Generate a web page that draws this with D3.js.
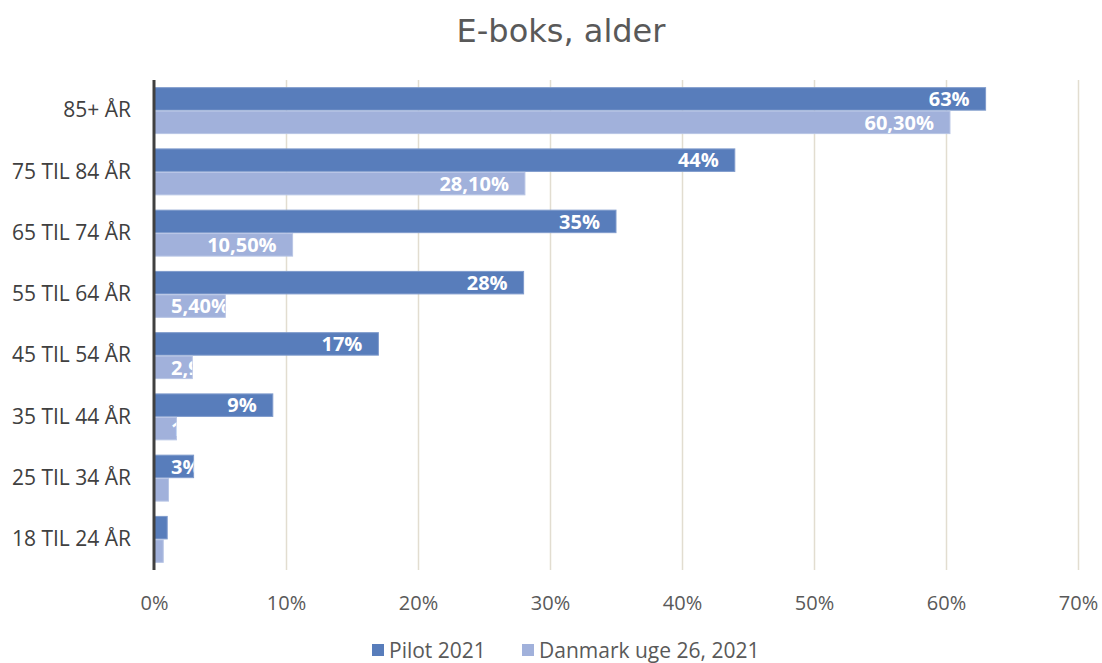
<!DOCTYPE html>
<html><head><meta charset="utf-8">
<script src="https://cdn.jsdelivr.net/npm/d3@7"></script>
<style>body{margin:0;background:#fff}svg{display:block}</style>
</head><body>
<svg id="c" width="1102" height="663"></svg>
<script>
const categories = ["85+ ÅR","75 TIL 84 ÅR","65 TIL 74 ÅR","55 TIL 64 ÅR","45 TIL 54 ÅR","35 TIL 44 ÅR","25 TIL 34 ÅR","18 TIL 24 ÅR"];
const pilot = [63,44,35,28,17,9,3,1];
const pilotLabels = ["63%","44%","35%","28%","17%","9%","3%","1%"];
const danmark = [60.3,28.1,10.5,5.4,2.9,1.7,1.1,0.7];
const danmarkLabels = ["60,30%","28,10%","10,50%","5,40%","2,90%","1,70%","1,10%","0,70%"];
const xTicks = [0,10,20,30,40,50,60,70];
const tickLabels = ["0%","10%","20%","30%","40%","50%","60%","70%"];
const seriesNames = ["Pilot 2021","Danmark uge 26, 2021"];
const colors = ["#587DBB","#A1B1DB"];

const FONT = "'Open Sans', sans-serif";
const svg = d3.select("#c");
const x = d3.scaleLinear().domain([0,70]).range([154,1078]);
const y = d3.scaleBand().domain(categories).range([80,570]).paddingInner(0.25).paddingOuter(0.125);
const ys = d3.scaleBand().domain([0,1]).range([0,y.bandwidth()]).paddingInner(0.04);

svg.append("text").attr("x",561).attr("y",42).attr("text-anchor","middle")
  .attr("font-family","'DejaVu Sans', sans-serif").attr("font-size",32).attr("fill","#595959").text("E-boks, alder");

// gridlines
svg.append("g").selectAll("line").data(xTicks.slice(1)).join("line")
  .attr("x1",d=>x(d)+0.5).attr("x2",d=>x(d)+0.5).attr("y1",80).attr("y2",570)
  .attr("stroke","#E2DDD0").attr("stroke-width",1.5);

// x axis tick labels
const xa = svg.append("g").attr("transform","translate(0,603)")
  .call(d3.axisBottom(x).tickValues(xTicks).tickFormat((d,i)=>tickLabels[i]).tickSize(0).tickPadding(0));
xa.select(".domain").remove();
xa.selectAll("text").attr("font-family",FONT).attr("font-size",20).attr("fill","#595959").attr("dy","0.35em");

// y axis labels
const ya = svg.append("g").attr("transform","translate(131,0)")
  .call(d3.axisLeft(y).tickSize(0).tickPadding(0));
ya.select(".domain").remove();
ya.selectAll("text").attr("font-family",FONT).attr("font-size",21).attr("fill","#404040");

const defs = svg.append("defs");
const series = [pilot, danmark];
const labels = [pilotLabels, danmarkLabels];
series.forEach((vals,s)=>{
  const g = svg.append("g");
  vals.forEach((v,i)=>{
    const yy = y(categories[i]) + ys(s);
    const h = ys.bandwidth();
    g.append("rect").attr("x",x(0)).attr("y",yy).attr("width",x(v)-x(0)).attr("height",h)
      .attr("fill",colors[s]).attr("stroke", s===0?"#7F9BCC":"#B8C5E5").attr("stroke-width",1);
    const cid = "clip"+s+"_"+i;
    defs.append("clipPath").attr("id",cid).append("rect")
      .attr("x",x(0)).attr("y",yy).attr("width",x(v)-x(0)).attr("height",h);
    const t = g.append("text").attr("clip-path","url(#"+cid+")")
      .attr("y",yy+h/2).attr("dy","0.36em").attr("font-family",FONT).attr("font-weight",700)
      .attr("font-size",20).attr("fill","#fff").text(labels[s][i]);
    const w = t.node().getComputedTextLength();
    const tx = Math.max(x(v)-16-w, x(0)+17);
    if (tx >= x(v) - 1) { t.remove(); } else { t.attr("x",tx); }
  });
});

// left axis line
svg.append("line").attr("x1",154).attr("x2",154).attr("y1",80).attr("y2",570)
  .attr("stroke","#404040").attr("stroke-width",3);

// legend
const lg = svg.append("g").attr("transform","translate(0,650)");
const lx = [372,522];
seriesNames.forEach((n,i)=>{
  lg.append("rect").attr("x",lx[i]).attr("y",-6).attr("width",12).attr("height",12).attr("fill",colors[i]);
  lg.append("text").attr("x",lx[i]+17).attr("y",0).attr("dy","0.36em").attr("font-family",FONT)
    .attr("font-size",21).attr("fill","#595959").text(n);
});
</script>
</body></html>
